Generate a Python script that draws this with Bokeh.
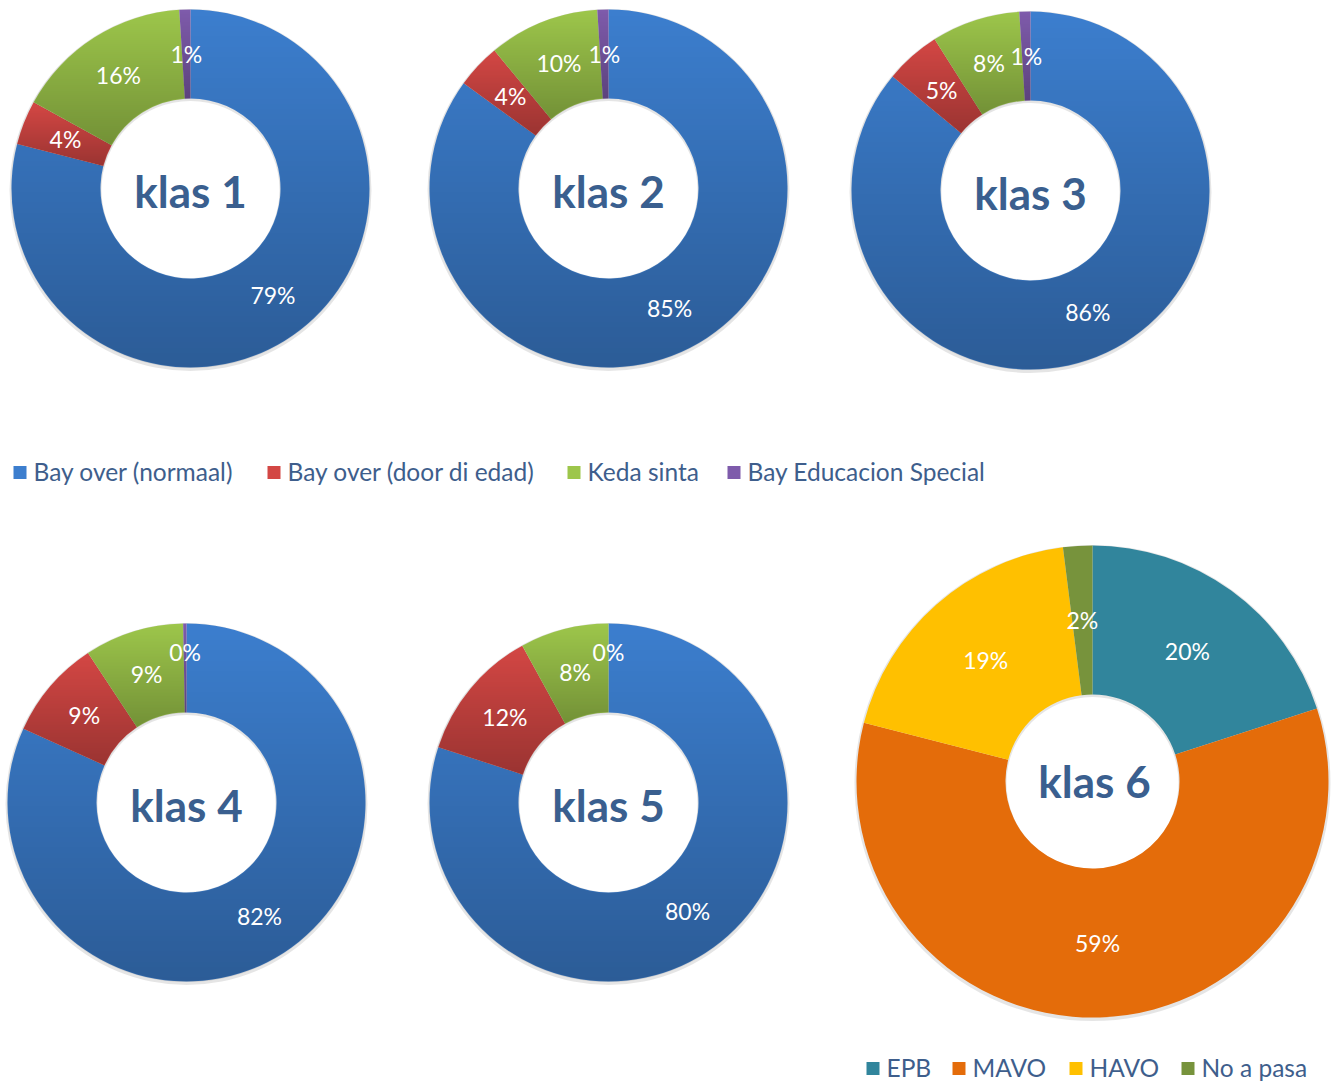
import numpy as np
from bokeh.plotting import figure
from bokeh.models import Range1d
from bokeh.core.properties import value
from bokeh.embed import file_html
from bokeh.resources import INLINE

# ---------------- data ----------------
klas_names = ["klas 1", "klas 2", "klas 3", "klas 4", "klas 5"]
categories_a = ["Bay over (normaal)", "Bay over (door di edad)", "Keda sinta", "Bay Educacion Special"]
bay_over_normaal = [79, 85, 86, 82, 80]
bay_over_door_di_edad = [4, 4, 5, 9, 12]
keda_sinta = [16, 10, 8, 9, 8]
bay_educacion_special = [1, 1, 1, 0.3, 0]

klas6_name = "klas 6"
categories_b = ["EPB", "MAVO", "HAVO", "No a pasa"]
klas6_values = [20, 59, 19, 2]

# ---------------- styles / layout ----------------
W, H = 1339, 1084
FONT = "Lato"
colors_a = ["#3C7ECE", "#D34744", "#9DC64B", "#7E5BAB"]
colors_b = ["#31859C", "#E46C0A", "#FFC000", "#77933C"]
title_color = "#3A5F8F"
legend_color = "#3E5E8C"

centers_a = [(190, 188), (608, 188), (1030, 190), (186, 802), (608, 802)]  # pixel, from top
R_OUT_A, R_IN_A = 179, 90
center_b = (1092, 781)
R_OUT_B, R_IN_B = 236, 87

legend_a_x = [13, 267, 567, 727]
legend_a_y = 472
legend_b_x = [866, 952, 1069, 1181]
legend_b_y = 1068
SQ = 13


def Y(ypix):
    return H - ypix


p = figure(width=W, height=H, output_backend="svg", toolbar_location=None,
           x_range=Range1d(0, W), y_range=Range1d(0, H), min_border=0)
p.axis.visible = False
p.grid.visible = False
p.outline_line_color = None
p.background_fill_color = "white"


def shade_image(vals, R, r, amax=0.27):
    N = int(2 * R)
    s = (np.arange(N) + 0.5) - R
    X, Yg = np.meshgrid(s, s)
    d = np.hypot(X, Yg)
    cov = np.clip(R - d + 0.5, 0, 1) * np.clip(d - r + 0.5, 0, 1)
    ang = (np.degrees(np.arctan2(X, Yg)) % 360) / 360.0
    cum = np.cumsum(vals) / float(sum(vals))
    idx = np.searchsorted(cum, ang, side="right")
    alpha = np.zeros_like(d)
    ring = cov > 0
    for k in range(len(vals)):
        m = ring & (idx == k)
        if m.any():
            ytop = Yg[m].max()
            ybot = Yg[m].min()
            span = max(ytop - ybot, 1.0)
            alpha[m] = amax * (ytop - Yg[m]) / span
    alpha *= cov
    img = np.zeros((N, N), dtype=np.uint32)
    view = img.view(dtype=np.uint8).reshape((N, N, 4))
    view[..., 3] = (alpha * 255).astype(np.uint8)
    return img


def donut(cx, cy, vals, cols, R, r, shade):
    total = float(sum(vals))
    cum = np.concatenate([[0.0], np.cumsum(vals) / total])
    xs, ys, sa, ea, cs = [], [], [], [], []
    for k, v in enumerate(vals):
        if v <= 0:
            continue
        xs.append(cx); ys.append(Y(cy))
        sa.append(np.pi / 2 - 2 * np.pi * cum[k])
        ea.append(np.pi / 2 - 2 * np.pi * cum[k + 1])
        cs.append(cols[k])
    # soft shadow
    p.annular_wedge(x=[cx], y=[Y(cy) - 1.5], inner_radius=r - 1, outer_radius=R + 2,
                    start_angle=0, end_angle=2 * np.pi, fill_color="#000000",
                    fill_alpha=0.10, line_color=None)
    p.annular_wedge(x=xs, y=ys, inner_radius=r, outer_radius=R, start_angle=sa,
                    end_angle=ea, direction="clock", fill_color=cs, line_color=None)
    if shade:
        img = shade_image(vals, R, r)
        p.image_rgba(image=[img], x=cx - R, y=Y(cy) - R, dw=2 * R, dh=2 * R)
    # labels
    mid_r = (R + r) / 2.0
    lx, ly, lt = [], [], []
    for k, v in enumerate(vals):
        a = 2 * np.pi * (cum[k] + cum[k + 1]) / 2
        rr = mid_r + (16 if v < 1 else 0)
        lx.append(cx + rr * np.sin(a))
        ly.append(Y(cy) + rr * np.cos(a))
        lt.append(f"{int(round(v))}%")
    p.text(x=lx, y=ly, text=lt, text_color="white", text_font=value(FONT),
           text_font_size="23px", text_align="center", text_baseline="middle")


series_a = [bay_over_normaal, bay_over_door_di_edad, keda_sinta, bay_educacion_special]
for i, name in enumerate(klas_names):
    cx, cy = centers_a[i]
    vals = [s[i] for s in series_a]
    donut(cx, cy, vals, colors_a, R_OUT_A, R_IN_A, True)
    p.text(x=[cx], y=[Y(cy + 2)], text=[name], text_color=title_color,
           text_font=value(FONT), text_font_style="bold", text_font_size="44px",
           text_align="center", text_baseline="middle")

cx, cy = center_b
donut(cx, cy, klas6_values, colors_b, R_OUT_B, R_IN_B, False)
p.text(x=[cx + 2], y=[Y(cy - 1)], text=[klas6_name], text_color=title_color,
       text_font=value(FONT), text_font_style="bold", text_font_size="44px",
       text_align="center", text_baseline="middle")


def legend(xs, ycen, labels, cols):
    p.rect(x=[x + SQ / 2 for x in xs], y=[Y(ycen)] * len(xs), width=SQ, height=SQ,
           fill_color=cols, line_color=None)
    p.text(x=[x + SQ + 7 for x in xs], y=[Y(ycen - 1)] * len(xs), text=labels,
           text_color=legend_color, text_font=value(FONT), text_font_size="24.5px",
           text_align="left", text_baseline="middle")


legend(legend_a_x, legend_a_y, categories_a, colors_a)
legend(legend_b_x, legend_b_y, categories_b, colors_b)

open("out.html", "w").write(file_html(p, INLINE))
